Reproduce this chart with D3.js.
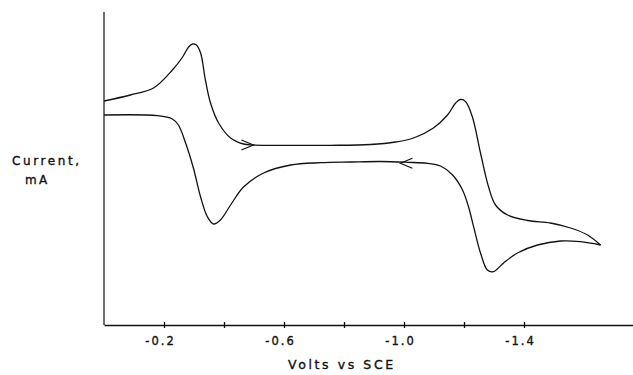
<!DOCTYPE html>
<html>
<head>
<meta charset="utf-8">
<script src="https://cdn.jsdelivr.net/npm/d3@7"></script>
<style>
  html, body { margin: 0; padding: 0; background: #fff; }
  svg { display: block; }
  text { font-family: "DejaVu Sans", sans-serif; fill: #111; stroke: #111; stroke-width: 0.35px; }
</style>
</head>
<body>
<svg id="chart" width="633" height="375"></svg>
<script>
// ---- Data (Volts vs SCE, current in arbitrary mA units) ----
const forwardV = [0.000, -0.088, -0.165, -0.228, -0.262, -0.282, -0.295, -0.308, -0.322, -0.338,
  -0.355, -0.382, -0.422, -0.465, -0.498, -0.622, -0.755, -0.888, -0.972, -1.032,
  -1.098, -1.145, -1.172, -1.188, -1.205, -1.228, -1.255, -1.282, -1.305, -1.345,
  -1.412, -1.488, -1.555, -1.612, -1.655];
const forwardI = [0.74, 0.80, 0.87, 1.05, 1.18, 1.28, 1.31, 1.30, 1.22, 0.95,
  0.72, 0.52, 0.37, 0.31, 0.30, 0.297, 0.297, 0.305, 0.33, 0.37,
  0.47, 0.60, 0.72, 0.755, 0.735, 0.58, 0.22, -0.12, -0.30, -0.40,
  -0.455, -0.48, -0.53, -0.60, -0.70];

const reverseV = [-1.655, -1.588, -1.522, -1.445, -1.378, -1.332, -1.298, -1.278, -1.255, -1.232,
  -1.215, -1.195, -1.162, -1.122, -1.078, -1.012, -0.922, -0.822, -0.722, -0.622,
  -0.532, -0.465, -0.422, -0.388, -0.365, -0.345, -0.322, -0.298, -0.272, -0.248,
  -0.228, -0.178, 0.000];
const reverseI = [-0.70, -0.667, -0.66, -0.70, -0.78, -0.88, -0.967, -0.95, -0.78, -0.517,
  -0.317, -0.15, 0.0, 0.09, 0.117, 0.127, 0.135, 0.13, 0.123, 0.10,
  0.02, -0.12, -0.30, -0.45, -0.49, -0.42, -0.22, 0.07, 0.32, 0.50,
  0.56, 0.593, 0.60];

// scan-direction arrows: [volts, current, direction]
const arrowV = [-0.498, -0.988];
const arrowI = [0.300, 0.117];
const arrowDir = [1, -1];

const tickValues = [-0.2, -0.4, -0.6, -0.8, -1.0, -1.2, -1.4];
const tickLabels = ["-0.2", "", "-0.6", "", "-1.0", "", "-1.4"];
const xTitle = "Volts vs SCE";
const yTitle = ["Current,", "mA"];

// ---- Scales ----
const svg = d3.select("#chart");
const x = d3.scaleLinear().domain([0, -1.7633]).range([104, 633]);
const y = d3.scaleLinear().domain([-1.5, 1.63]).range([325, 12]);

// ---- Axes ----
const xAxis = d3.axisBottom(x)
  .tickValues(tickValues)
  .tickSizeInner(3).tickSizeOuter(0)
  .tickFormat((d, i) => tickLabels[i]);
const gx = svg.append("g").attr("transform", `translate(0,${y(-1.5)})`).call(xAxis);
gx.attr("font-family", null).attr("font-size", null);
gx.select(".domain").attr("stroke", "#111").attr("stroke-width", 1.4);
gx.selectAll(".tick line").attr("y1", -3).attr("y2", 3).attr("stroke", "#111").attr("stroke-width", 1.3);
gx.selectAll(".tick text")
  .attr("y", 20).attr("dy", 0).attr("dx", -4)
  .style("font-size", "11.5px").style("letter-spacing", "2px")
  .attr("fill", "#111");

svg.append("line")
  .attr("x1", x(0)).attr("x2", x(0))
  .attr("y1", y(1.63)).attr("y2", y(-1.5))
  .attr("stroke", "#222").attr("stroke-width", 1.3);

// ---- Titles ----
svg.append("text").attr("x", 288).attr("y", 369).attr("text-anchor", "start")
  .style("font-size", "12.5px").style("letter-spacing", "2.6px").text(xTitle);
svg.append("text").attr("x", 12).attr("y", 165).attr("text-anchor", "start")
  .style("font-size", "12px").style("letter-spacing", "2.6px").text(yTitle[0]);
svg.append("text").attr("x", 25).attr("y", 184).attr("text-anchor", "start")
  .style("font-size", "12px").style("letter-spacing", "2.4px").text(yTitle[1]);

// ---- Curves ----
const line = d3.line()
  .x(d => x(d[0])).y(d => y(d[1]))
  .curve(d3.curveCatmullRom.alpha(0.5));

const fwd = forwardV.map((v, i) => [v, forwardI[i]]);
const rev = reverseV.map((v, i) => [v, reverseI[i]]);

[fwd, rev].forEach(data => {
  svg.append("path").datum(data)
    .attr("d", line)
    .attr("fill", "none")
    .attr("stroke", "#111")
    .attr("stroke-width", 1.3)
    .attr("stroke-linejoin", "miter");
});

// ---- Arrows ----
arrowV.forEach((v, i) => {
  const tx = x(v), ty = y(arrowI[i]), d = arrowDir[i];
  svg.append("path")
    .attr("d", `M${tx - d * 12},${ty - 5} L${tx},${ty} L${tx - d * 12},${ty + 5}`)
    .attr("fill", "none").attr("stroke", "#111").attr("stroke-width", 1.2);
});
</script>
</body>
</html>
